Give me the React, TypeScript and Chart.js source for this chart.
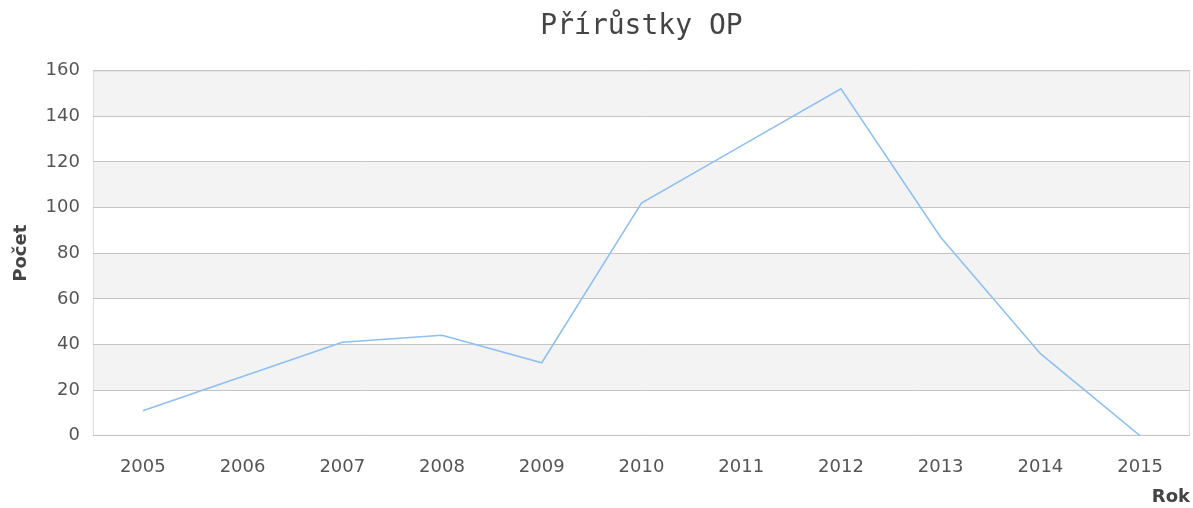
import React, { useEffect, useRef } from "react";
import { Chart, registerables } from "chart.js";

Chart.register(...registerables);

const years = ["2005", "2006", "2007", "2008", "2009", "2010", "2011", "2012", "2013", "2014", "2015"];
const counts = [11, 26, 41, 44, 32, 102, 127, 152, 87, 36, 0];
const chartTitle = "Přírůstky OP";
const xTitle = "Rok";
const yTitle = "Počet";

const bandsPlugin = {
  id: "bands",
  beforeDraw(chart: any) {
    const { ctx, chartArea, scales } = chart;
    const y = scales.y;
    ctx.save();
    const ticks = y.ticks;
    for (let i = 0; i < ticks.length - 1; i++) {
      if (i % 2 === 1) {
        const top = y.getPixelForValue(ticks[i + 1].value);
        const bot = y.getPixelForValue(ticks[i].value);
        ctx.fillStyle = "#f3f3f3";
        ctx.fillRect(chartArea.left, top, chartArea.right - chartArea.left, bot - top);
      }
    }
    ctx.strokeStyle = "#dddddd";
    ctx.lineWidth = 1;
    ctx.strokeRect(chartArea.left + 0.5, chartArea.top + 0.5, chartArea.right - chartArea.left - 1, chartArea.bottom - chartArea.top - 1);
    ctx.restore();
  },
};

export default function App() {
  const ref = useRef<HTMLCanvasElement | null>(null);
  useEffect(() => {
    document.body.style.margin = "0";
    const chart = new Chart(ref.current as HTMLCanvasElement, {
      type: "line",
      data: {
        labels: years,
        datasets: [
          {
            data: counts,
            borderColor: "#8cbff2",
            borderWidth: 1.5,
            pointRadius: 0,
            fill: false,
            tension: 0,
          },
        ],
      },
      options: {
        animation: false,
        responsive: false,
        layout: { padding: { left: 11, right: 3, top: 0, bottom: 0 } },
        plugins: {
          legend: { display: false },
          tooltip: { enabled: false },
          title: {
            display: true,
            text: chartTitle,
            fullSize: false,
            color: "#444444",
            font: { family: "DejaVu Sans Mono", size: 28, weight: "normal" },
            padding: { top: 10, bottom: 27 },
          },
        },
        scales: {
          x: {
            offset: true,
            grid: { display: false, drawTicks: false },
            border: { display: false },
            ticks: {
              color: "#555555",
              font: { family: "DejaVu Sans", size: 18 },
              padding: 21,
              maxRotation: 0,
            },
            title: {
              display: true,
              text: xTitle,
              align: "end",
              color: "#444444",
              font: { family: "DejaVu Sans", size: 18, weight: "bold" },
              padding: { top: -13, bottom: 0 },
            },
          },
          y: {
            min: 0,
            max: 160,
            ticks: {
              stepSize: 20,
              color: "#555555",
              font: { family: "DejaVu Sans", size: 18 },
              padding: 13,
            },
            grid: { color: "#c4c4c4", lineWidth: 1, drawTicks: false },
            border: { display: false },
            title: {
              display: true,
              text: yTitle,
              color: "#444444",
              font: { family: "DejaVu Sans", size: 18, weight: "bold" },
              padding: { top: 0, bottom: 0 },
            },
          },
        },
      },
      plugins: [bandsPlugin],
    });
    return () => chart.destroy();
  }, []);
  return (
    <div style={{ width: 1193, height: 508 }}>
      <canvas ref={ref} width={1193} height={508} style={{ display: "block" }} />
    </div>
  );
}
